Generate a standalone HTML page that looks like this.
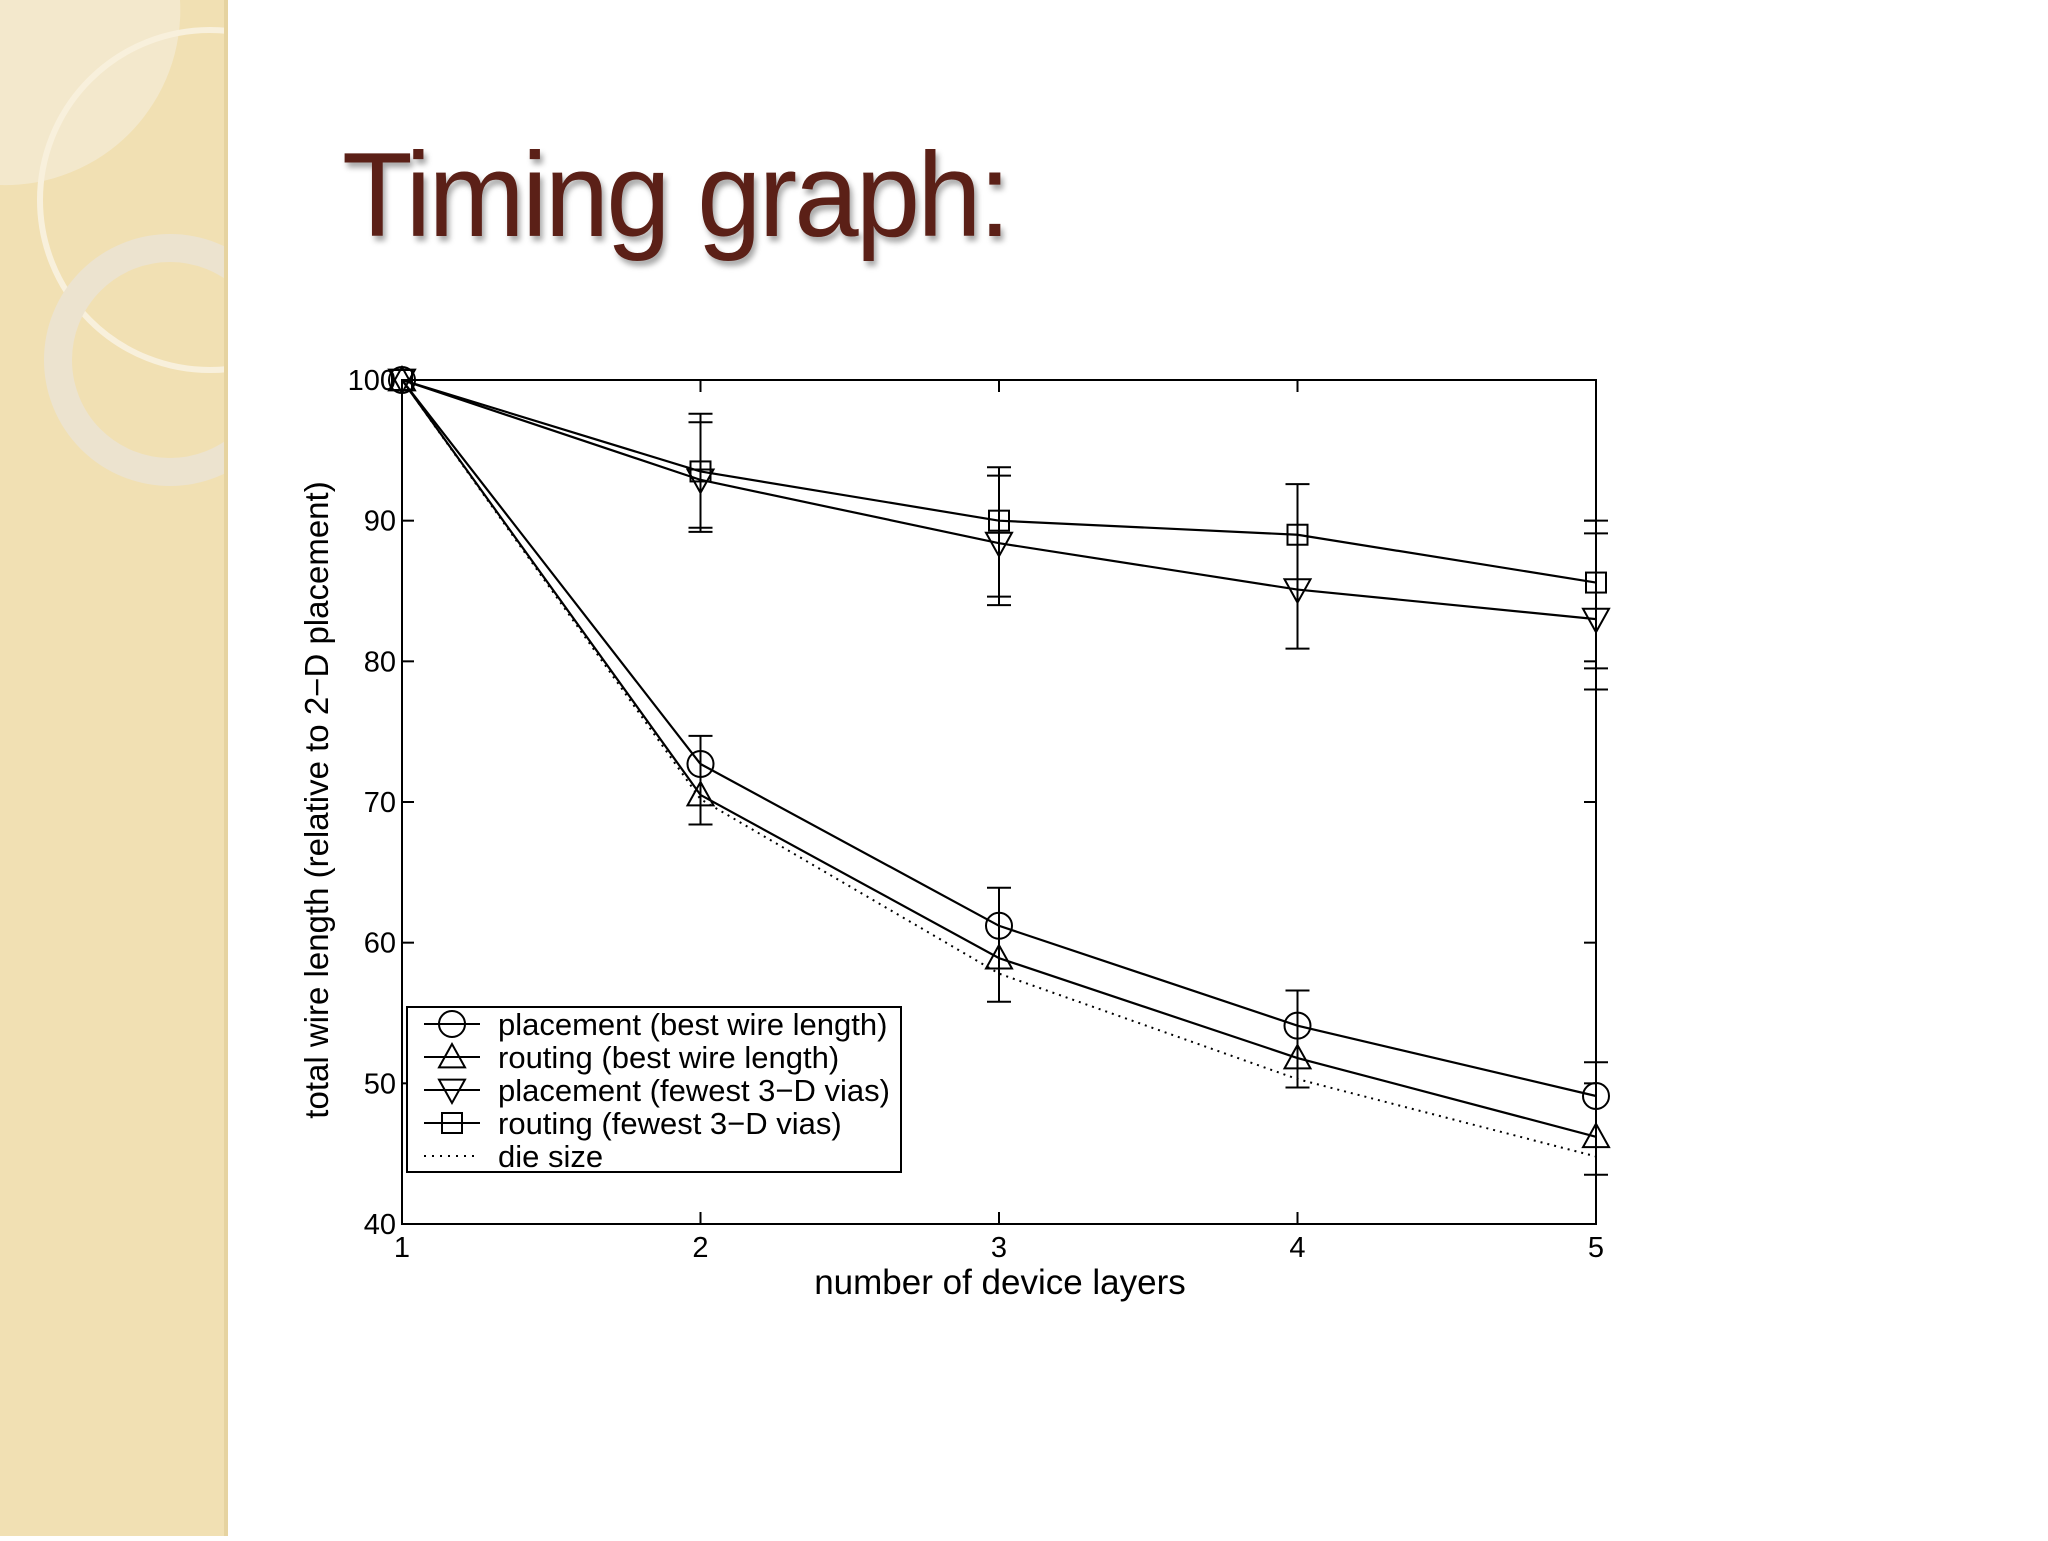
<!DOCTYPE html>
<html><head><meta charset="utf-8"><style>
html,body{margin:0;padding:0;width:2048px;height:1536px;overflow:hidden;background:#fff}
#side{position:absolute;left:0;top:0;width:228px;height:1536px;background:#f2e2b6}
#title{position:absolute;left:342px;top:126px;font-family:"Liberation Sans",sans-serif;font-size:120px;color:#5b2017;letter-spacing:-3px;transform:scaleX(0.965);transform-origin:left top;text-shadow:3px 5px 6px rgba(0,0,0,0.35);white-space:nowrap}
svg text{font-family:"Liberation Sans",sans-serif}
</style></head><body>
<div id="side">
<svg width="228" height="1536">
<rect x="0" y="0" width="228" height="1536" fill="#f1e0b3"/>
<path d="M0 0 H180 A175 175 0 0 1 0 185 Z" fill="#f3e8cc"/>
<circle cx="210" cy="200" r="170" fill="none" stroke="#f8f0dc" stroke-width="6"/>
<circle cx="170" cy="360" r="112" fill="none" stroke="#ece3cf" stroke-width="28"/>
<line x1="226" y1="0" x2="226" y2="1536" stroke="#e6d3a0" stroke-width="4"/>
</svg></div>
<div id="title">Timing graph:</div>
<svg id="chart" width="2048" height="1536" style="position:absolute;left:0;top:0"></svg>
<script>
const categories=[1,2,3,4,5];
const yTicks=[40,50,60,70,80,90,100];
const placementBest=[100,72.7,61.2,54.1,49.1];
const routingBest=[100,70.5,58.9,51.8,46.2];
const placementFewest=[100,92.9,88.4,85.1,83.0];
const routingFewest=[100,93.5,90.0,89.0,85.6];
const dieSize=[100,70.2,57.8,50.3,44.8];
const pbLow=[null,68.4,55.8,49.7,43.5];
const pbHigh=[null,74.7,63.9,56.6,51.5];
const pfLow=[null,89.2,84.0,80.9,78.0];
const pfHigh=[null,97.0,93.2,92.6,89.1];
const rfLow=[null,89.5,84.6,null,79.5];
const rfHigh=[null,97.6,93.8,null,90.0];
const X0=402,X1=1596,Y0=1224,Y1=380;
const xs=v=>X0+(v-1)/4*(X1-X0);
const ys=v=>Y0-(v-40)/60*(Y0-Y1);
const svg=document.getElementById('chart');
const NS='http://www.w3.org/2000/svg';
function mk(t,a,p){const e=document.createElementNS(NS,t);for(const k in a)e.setAttribute(k,a[k]);(p||svg).appendChild(e);return e;}
let e=mk('rect',{x:X0,y:Y1,width:X1-X0,height:Y0-Y1,fill:'none',stroke:'#000','stroke-width':2});


categories.forEach(c=>{const x=xs(c);
mk('line',{x1:x,y1:Y0,x2:x,y2:Y0-12,stroke:'#000','stroke-width':2});
mk('line',{x1:x,y1:Y1,x2:x,y2:Y1+12,stroke:'#000','stroke-width':2});
const t=mk('text',{x:x,y:Y0+33,'font-size':29,'text-anchor':'middle'});t.textContent=c;

});
yTicks.forEach(v=>{const y=ys(v);
mk('line',{x1:X0,y1:y,x2:X0+12,y2:y,stroke:'#000','stroke-width':2});
mk('line',{x1:X1,y1:y,x2:X1-12,y2:y,stroke:'#000','stroke-width':2});
const t=mk('text',{x:X0-6,y:y+10,'font-size':29,'text-anchor':'end'});t.textContent=v;

});
let t=mk('text',{x:1000,y:1294,'font-size':35,'text-anchor':'middle'});t.textContent='number of device layers';


t=mk('text',{x:0,y:0,'font-size':33,'text-anchor':'middle',transform:'translate(328,800) rotate(-90)'});t.textContent='total wire length (relative to 2\u2212D placement)';


function marker(type,x,y,g){const s=13;
if(type==='o')mk('circle',{cx:x,cy:y,r:s,fill:'none',stroke:'#000','stroke-width':2},g);
if(type==='^')mk('polygon',{points:`${x},${y-s} ${x-s},${y+s*0.8} ${x+s},${y+s*0.8}`,fill:'none',stroke:'#000','stroke-width':2},g);
if(type==='v')mk('polygon',{points:`${x},${y+s} ${x-s},${y-s*0.8} ${x+s},${y-s*0.8}`,fill:'none',stroke:'#000','stroke-width':2},g);
if(type==='s')mk('rect',{x:x-10,y:y-10,width:20,height:20,fill:'none',stroke:'#000','stroke-width':2},g);}
function series(vals,type,name,dash,lo,hi){const g=mk('g',{});


mk('polyline',{points:vals.map((v,i)=>xs(categories[i])+','+ys(v)).join(' '),fill:'none',stroke:'#000','stroke-width':dash?2:2.2,'stroke-dasharray':dash?'2,5':'none'},g);
if(lo)lo.forEach((l,i)=>{if(l==null)return;const x=xs(categories[i]);
mk('line',{x1:x,y1:ys(l),x2:x,y2:ys(hi[i]),stroke:'#000','stroke-width':2},g);
mk('line',{x1:x-12,y1:ys(l),x2:x+12,y2:ys(l),stroke:'#000','stroke-width':2},g);
mk('line',{x1:x-12,y1:ys(hi[i]),x2:x+12,y2:ys(hi[i]),stroke:'#000','stroke-width':2},g);});
if(type)vals.forEach((v,i)=>marker(type,xs(categories[i]),ys(v),g));}
series(dieSize,null,'series-die-size',true);
series(placementBest,'o','series-placement-best','',pbLow,pbHigh);
series(routingBest,'^','series-routing-best','');
series(placementFewest,'v','series-placement-fewest','',pfLow,pfHigh);
series(routingFewest,'s','series-routing-fewest','',rfLow,rfHigh);
const lg=mk('g',{});


mk('rect',{x:407,y:1007,width:494,height:165,fill:'#fff',stroke:'#000','stroke-width':2},lg);
const legendLabels=['placement (best wire length)','routing (best wire length)','placement (fewest 3\u2212D vias)','routing (fewest 3\u2212D vias)','die size'];
const legendTypes=['o','^','v','s',null];
legendLabels.forEach((l,i)=>{const y=1024+i*33;
const gg=mk('g',{},lg);


mk('line',{x1:424,y1:y,x2:480,y2:y,stroke:'#000','stroke-width':2,'stroke-dasharray':legendTypes[i]?'none':'2,6'},gg);
if(legendTypes[i])marker(legendTypes[i],452,y,gg);
const tt=mk('text',{x:498,y:y+11,'font-size':31},gg);tt.textContent=l;});
</script>
</body></html>
